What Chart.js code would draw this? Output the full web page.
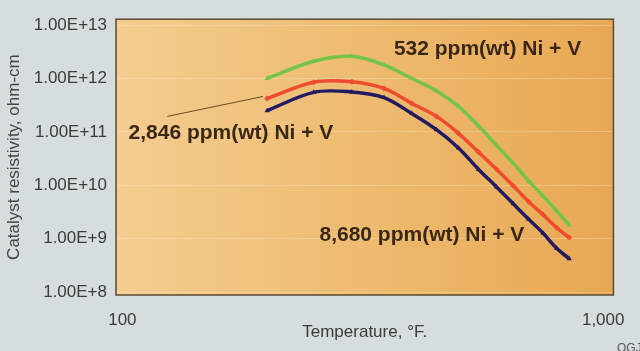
<!DOCTYPE html>
<html>
<head>
<meta charset="utf-8">
<script src="https://cdn.jsdelivr.net/npm/chart.js@4"></script>
<style>
  html, body { margin: 0; padding: 0; background: #d6dddd; }
  #wrap { width: 640px; height: 351px; position: relative; }
</style>
</head>
<body>
<div id="wrap"><canvas id="resChart"></canvas></div>
<script>
// Temperature, deg F
const temps = [200, 250, 300, 350, 400, 450, 500, 550, 600, 650, 700, 750, 800, 850];
// Catalyst resistivity, ohm-cm
const ni532 = [1.0e12, 2.1e12, 2.6e12, 1.8e12, 1.0e12, 5.9e11, 3.0e11, 1.3e11, 5.6e10, 2.6e10, 1.2e10, 6.3e9, 3.3e9, 1.8e9];
const ni2846 = [4.2e11, 8.5e11, 8.7e11, 6.5e11, 3.4e11, 1.95e11, 9.4e10, 4.2e10, 2.0e10, 9.8e9, 4.9e9, 2.8e9, 1.6e9, 1.05e9];
const ni8680 = [2.5e11, 5.5e11, 5.6e11, 4.4e11, 2.2e11, 1.1e11, 5.0e10, 2.0e10, 9.3e9, 4.5e9, 2.3e9, 1.26e9, 6.6e8, 4.2e8];
const xTicks = [100, 1000];
const yTicks = [1e8, 1e9, 1e10, 1e11, 1e12, 1e13];

// labels placed in data coordinates: [text, temp, resistivity]
const notes = [
    ['532 ppm(wt) Ni + V', 367, 3.6e12],
    ['2,846 ppm(wt) Ni + V', 103, 9.4e10],
    ['8,680 ppm(wt) Ni + V', 257, 1.15e9]
];
const leader = [[124, 1.95e11], [196, 4.6e11]];

const font = '"Liberation Sans", Arial, sans-serif';

function pts(ys) {
    return temps.map((t, i) => ({x: t, y: ys[i]}));
}

const plotDecor = {
    id: 'plotDecor',
    beforeDraw(chart) {
        const {ctx, chartArea: a} = chart;
        const g = ctx.createLinearGradient(a.left, 0, a.right, 0);
        g.addColorStop(0, '#f3cd90');
        g.addColorStop(0.5, '#eebb70');
        g.addColorStop(1, '#e8a853');
        ctx.save();
        ctx.fillStyle = g;
        ctx.fillRect(a.left, a.top, a.right - a.left, a.bottom - a.top);
        ctx.restore();
    },
    afterDraw(chart) {
        const {ctx, chartArea: a, scales} = chart;
        const sx = scales.x, sy = scales.y;
        ctx.save();
        ctx.strokeStyle = '#5b4a32';
        ctx.lineWidth = 1.5;
        ctx.strokeRect(a.left, a.top, a.right - a.left, a.bottom - a.top);

        // leader line for the middle curve label
        ctx.strokeStyle = '#6a4a2a';
        ctx.lineWidth = 1;
        ctx.beginPath();
        ctx.moveTo(sx.getPixelForValue(leader[0][0]), sy.getPixelForValue(leader[0][1]));
        ctx.lineTo(sx.getPixelForValue(leader[1][0]), sy.getPixelForValue(leader[1][1]));
        ctx.stroke();

        ctx.fillStyle = '#3a2816';
        ctx.font = 'bold 21px ' + font;
        ctx.textAlign = 'left';
        ctx.textBaseline = 'middle';
        notes.forEach(([txt, t, r]) => {
            ctx.fillText(txt, sx.getPixelForValue(t), sy.getPixelForValue(r));
        });

        ctx.fillStyle = '#555';
        ctx.font = '12px ' + font;
        ctx.fillText('OGJ', 617, 349);
        ctx.restore();
    }
};

const ctx = document.getElementById('resChart').getContext('2d');
new Chart(ctx, {
    type: 'line',
    data: {
        datasets: [
            {
                label: '532 ppm(wt) Ni + V',
                data: pts(ni532),
                borderColor: '#74c449',
                backgroundColor: '#74c449',
                pointStyle: 'triangle',
                pointRadius: 3
            },
            {
                label: '2,846 ppm(wt) Ni + V',
                data: pts(ni2846),
                borderColor: '#ef4b2e',
                backgroundColor: '#ef4b2e',
                pointStyle: 'rectRot',
                pointRadius: 3
            },
            {
                label: '8,680 ppm(wt) Ni + V',
                data: pts(ni8680),
                borderColor: '#231a62',
                backgroundColor: '#231a62',
                pointStyle: 'triangle',
                pointRadius: 3
            }
        ]
    },
    options: {
        responsive: true,
        maintainAspectRatio: false,
        animation: false,
        layout: {
            padding: {top: 17, right: 25, bottom: 0, left: 0}
        },
        elements: {
            line: {borderWidth: 3.5, tension: 0.35, fill: false},
            point: {borderWidth: 0}
        },
        plugins: {
            legend: {display: false},
            tooltip: {enabled: false}
        },
        scales: {
            x: {
                type: 'logarithmic',
                min: 97,
                max: 1050,
                afterBuildTicks: axis => { axis.ticks = xTicks.map(v => ({value: v})); },
                afterFit: axis => { axis.height = 56; },
                grid: {display: false, drawTicks: false},
                border: {display: false},
                ticks: {
                    padding: 15,
                    maxRotation: 0,
                    color: '#3c3c3c',
                    font: {family: font, size: 17},
                    callback: v => v.toLocaleString('en-US')
                },
                title: {
                    display: true,
                    text: 'Temperature, °F.',
                    color: '#3c3c3c',
                    padding: {top: 0, bottom: 8},
                    font: {family: font, size: 17}
                }
            },
            y: {
                type: 'logarithmic',
                min: 8.8e7,
                max: 1.29e13,
                afterBuildTicks: axis => { axis.ticks = yTicks.map(v => ({value: v})); },
                afterFit: axis => { axis.width = 116; },
                grid: {color: 'rgba(255,238,205,0.3)', lineWidth: 1, drawTicks: false},
                border: {display: false},
                ticks: {
                    padding: 9,
                    color: '#3c3c3c',
                    font: {family: font, size: 17},
                    callback: v => '1.00E+' + Math.round(Math.log10(v))
                },
                title: {
                    display: true,
                    text: 'Catalyst resistivity, ohm-cm',
                    color: '#444',
                    padding: {top: 4, bottom: 0},
                    font: {family: font, size: 17}
                }
            }
        }
    },
    plugins: [plotDecor]
});
</script>
</body>
</html>
